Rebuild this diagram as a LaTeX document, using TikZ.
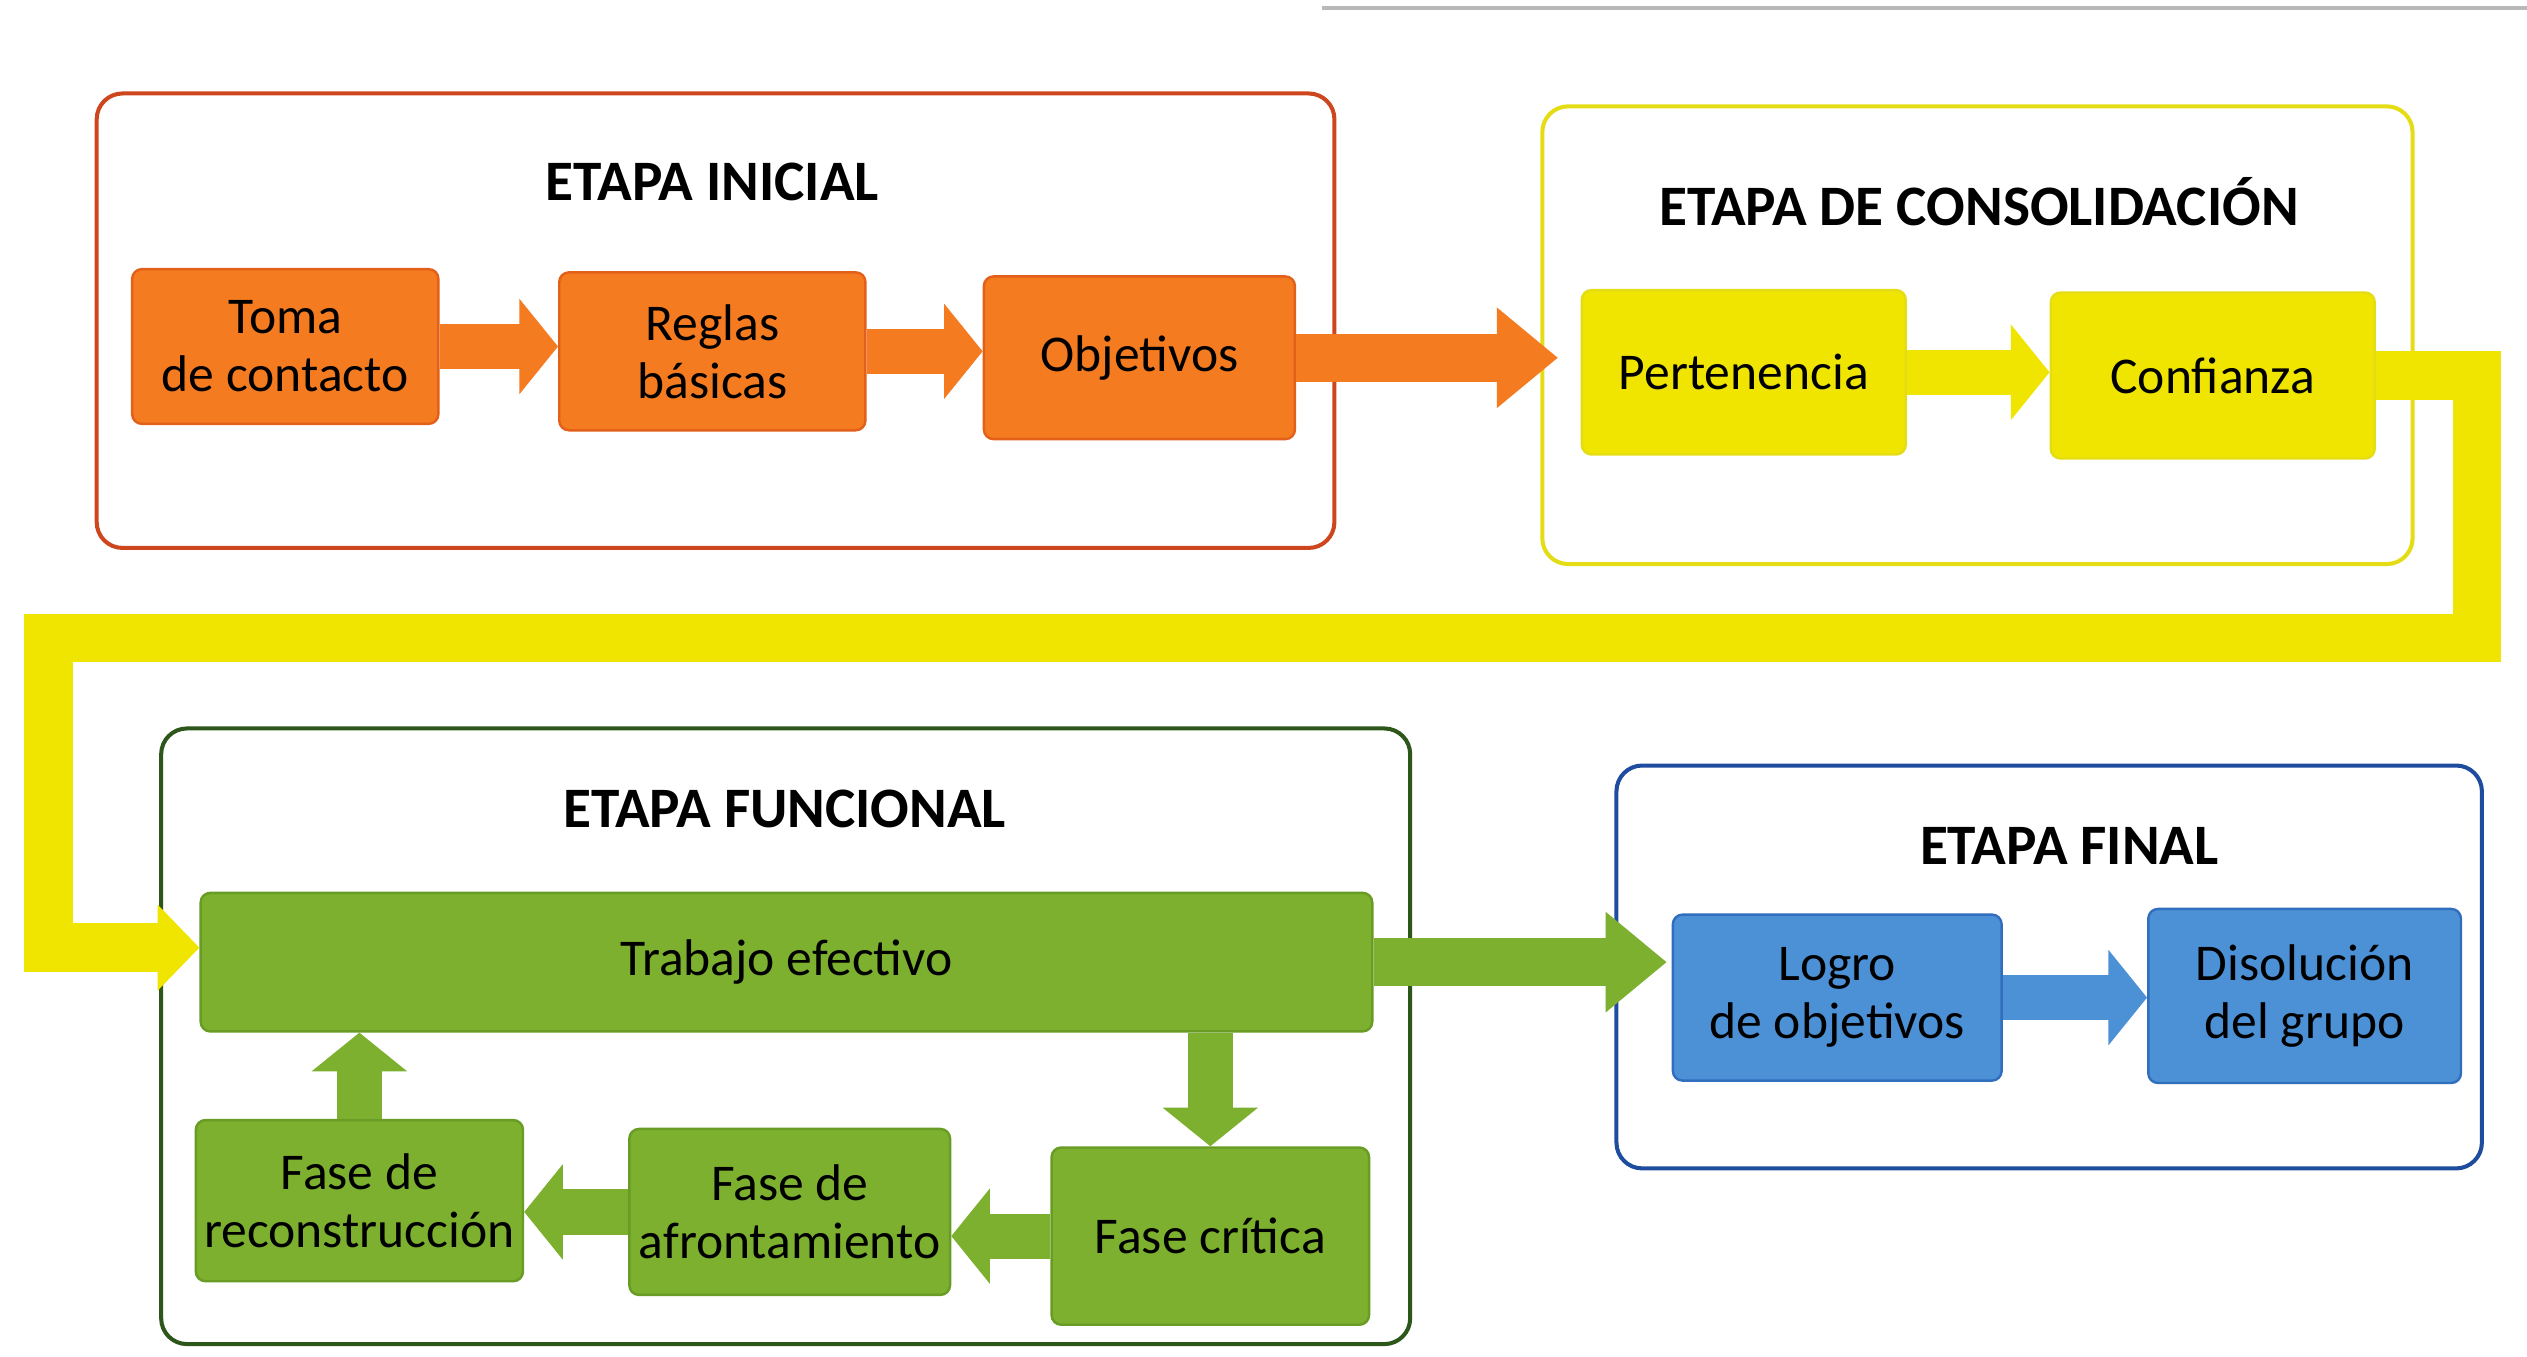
\documentclass[tikz,border=0pt]{standalone}
\usepackage{fontspec}
\setmainfont{Carlito}
\usetikzlibrary{arrows.meta,calc}
\definecolor{orfill}{RGB}{244,123,32}
\definecolor{ordraw}{RGB}{226,96,26}
\definecolor{iniframe}{RGB}{206,70,30}
\definecolor{yefill}{RGB}{240,229,0}
\definecolor{yedraw}{RGB}{228,220,20}
\definecolor{grfill}{RGB}{124,176,46}
\definecolor{grdraw}{RGB}{104,156,36}
\definecolor{grframe}{RGB}{44,86,26}
\definecolor{blfill}{RGB}{76,145,214}
\definecolor{bldraw}{RGB}{50,110,190}
\definecolor{blframe}{RGB}{30,76,158}
\begin{document}
\begin{tikzpicture}[x=1pt,y=-1pt,
  frame/.style={rounded corners=16pt,line width=2.5pt},
  title/.style={font=\fontsize{35.5}{42}\selectfont\bfseries},
  stepbox/.style={rounded corners=6pt,line width=1.5pt,align=center,inner sep=0pt,
    font=\fontsize{32}{36}\selectfont},
  orbox/.style={stepbox,fill=orfill,draw=ordraw},
  yebox/.style={stepbox,fill=yefill,draw=yedraw},
  grbox/.style={stepbox,fill=grfill,draw=grdraw},
  blbox/.style={stepbox,fill=blfill,draw=bldraw},
  smallarr/.style={line width=28pt,-{Triangle[length=24pt,width=58pt]}},
  bigarr/.style={line width=30pt,-{Triangle[length=38pt,width=60pt]}}
]
\useasboundingbox (0,0) rectangle (1568,842);
\fill[white] (0,0) rectangle (1568,842);
\draw[gray!55,line width=2pt] (820,5) -- (1568,5);

% frames
\draw[frame,draw=iniframe] (60,58) rectangle (828,340);
\draw[frame,draw=yedraw] (957,66) rectangle (1497,350);
\draw[frame,draw=grframe] (100,452) rectangle (875,834);
\draw[frame,draw=blframe] (1003,475) rectangle (1540,725);

% titles
\node[title] (tini) at (442,113) {ETAPA INICIAL};
\node[title] (tcons) at (1228,125) {ETAPA DE CONSOLIDACIÓN};
\node[title] (tfunc) at (487,502) {ETAPA FUNCIONAL};
\node[title] (tfin) at (1284,525) {ETAPA FINAL};

% connector corner coordinates
\coordinate (yr) at (1537,396);
\coordinate (yl) at (30,588);

% boxes
\node[orbox,minimum width=190pt,minimum height=96pt] (toma) at (177,215) {Toma\\de contacto};
\node[orbox,minimum width=190pt,minimum height=98pt] (reglas) at (442,218) {Reglas\\básicas};
\node[orbox,minimum width=193pt,minimum height=101pt] (objet) at (707,222) {Objetivos};
\node[yebox,minimum width=201pt,minimum height=102pt] (pert) at (1082,231) {Pertenencia};
\node[yebox,minimum width=201pt,minimum height=103pt] (conf) at (1373,233) {Confianza};
\node[grbox,minimum width=727pt,minimum height=86pt] (trab) at (488,597) {Trabajo efectivo};
\node[grbox,minimum width=197pt,minimum height=110pt] (crit) at (751,767) {Fase crítica};
\node[grbox,minimum width=199pt,minimum height=103pt] (afro) at (490,752) {Fase de\\afrontamiento};
\node[grbox,minimum width=203pt,minimum height=100pt] (recon) at (223,745) {Fase de\\reconstrucción};
\node[blbox,minimum width=204pt,minimum height=103pt] (logro) at (1140,619) {Logro\\de objetivos};
\node[blbox,minimum width=194pt,minimum height=108pt] (disol) at (1430,618) {Disolución\\del grupo};

% yellow connector
\draw[yefill,line width=30pt,-{Triangle[length=26pt,width=52pt]}]
  (conf.east) -| (yr) -| (yl) -- (yl -| trab.west);

% arrows
\draw[orfill,smallarr] (toma.east) -- (toma.east -| reglas.west);
\draw[orfill,smallarr] (reglas.east) -- (reglas.east -| objet.west);
\draw[orfill,bigarr,shorten >=14pt] (objet.east) -- (objet.east -| pert.west);
\draw[yefill,smallarr] (pert.east) -- (pert.east -| conf.west);
\draw[grfill,bigarr,shorten >=3pt] (trab.east) -- (trab.east -| logro.west);
\draw[grfill,smallarr] (trab.south -| crit.north) -- (crit.north);
\draw[grfill,smallarr] (crit.west) -- (crit.west -| afro.east);
\draw[grfill,smallarr] (afro.west) -- (afro.west -| recon.east);
\draw[grfill,smallarr] (recon.north) -- (recon.north |- trab.south);
\draw[blfill,smallarr] (logro.east) -- (logro.east -| disol.west);
\end{tikzpicture}
\end{document}
